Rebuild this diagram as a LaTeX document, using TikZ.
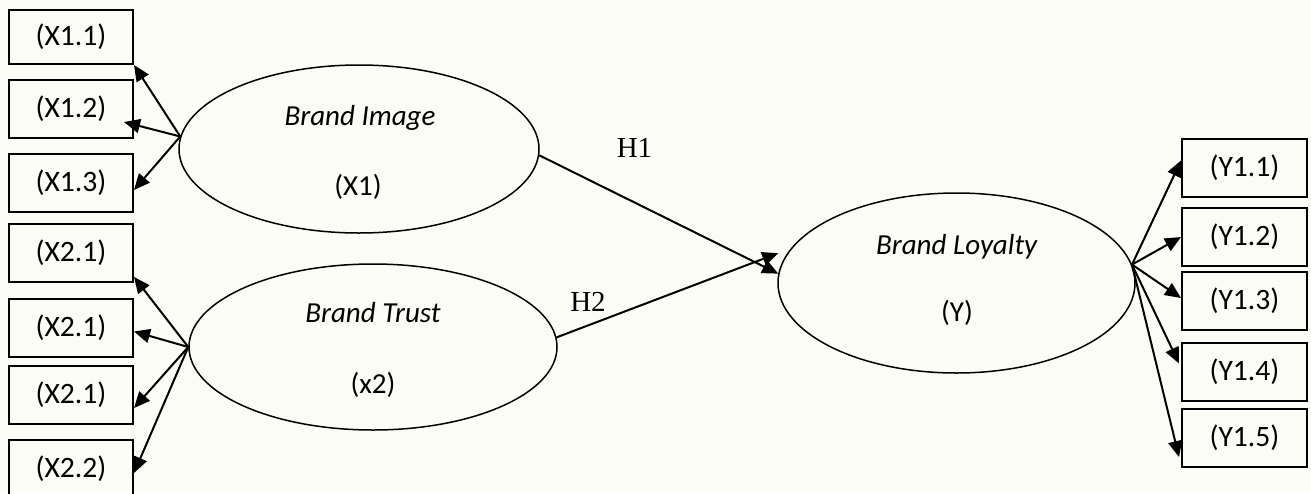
\documentclass[tikz,border=0pt]{standalone}
\usepackage{fontspec}
\setmainfont{Carlito}
\newfontfamily\hfont{Liberation Serif}
\usetikzlibrary{arrows.meta, shapes.geometric}
\definecolor{mCream}{HTML}{FCFCF6}
\tikzset{
  ind/.style={draw, line width=1pt, minimum width=62pt, minimum height=29pt,
              inner sep=0pt, font=\fontsize{14.8}{17}\selectfont},
  lat/.style={draw, ellipse, line width=0.75pt, inner sep=0pt},
  ltxt/.style={anchor=base, font=\fontsize{14.5}{17}\selectfont},
  hyp/.style={anchor=base, font=\hfont\fontsize{14.5}{17}\selectfont},
  load/.style={line width=1pt, -{Triangle[length=8pt,width=7pt]}},
}

\begin{document}
\begin{tikzpicture}[x=0.5pt, y=-0.5pt]
    \fill[mCream] (0,0) rectangle (1311,493);
    \useasboundingbox (0,0) rectangle (1311,493);
    \clip (0,0) rectangle (1311,493);
    \node[lat, minimum width=180pt, minimum height=84pt] (bi) at (359,149) {};
    \node[lat, minimum width=184pt, minimum height=83pt] (bt) at (373,347) {};
    \node[lat, minimum width=178.5pt, minimum height=90pt] (bl) at (956.5,283) {};
    \node[ltxt] (biname) at (360,125) {\textit{Brand Image}};
    \node[ltxt] (bicode) at (358,195) {(X1)};
    \node[ltxt] (btname) at (373,322.5) {\textit{Brand Trust}};
    \node[ltxt] (btcode) at (373,393) {(x2)};
    \node[ltxt] (blname) at (957,254) {\textit{Brand Loyalty}};
    \node[ltxt] (blcode) at (957,321.5) {(Y)};
    \node[ind, minimum height=27pt] (x11) at (71,37) {(X1.1)};
    \node[ind] (x12) at (71,109) {(X1.2)};
    \node[ind] (x13) at (71,183) {(X1.3)};
    \node[ind] (x21) at (71,253) {(X2.1)};
    \node[ind] (x22) at (71,327.5) {(X2.1)};
    \node[ind] (x23) at (71,395) {(X2.1)};
    \node[ind] (x24) at (71,469) {(X2.2)};
    \node[ind, minimum width=62.5pt] (y11) at (1244.5,167.5) {(Y1.1)};
    \node[ind, minimum width=62.5pt] (y12) at (1244.5,237) {(Y1.2)};
    \node[ind, minimum width=62.5pt] (y13) at (1244.5,301) {(Y1.3)};
    \node[ind, minimum width=62.5pt] (y14) at (1244.5,371.5) {(Y1.4)};
    \node[ind, minimum width=62.5pt] (y15) at (1244.5,438) {(Y1.5)};
    \node[hyp] (h1) at (634.5,157) {H1};
    \node[hyp] (h2) at (588,311) {H2};
    \draw[load] (bi.176) -- (x11.south east);
    \draw[load] (bi.176) -- ([shift={(-5pt,-6.5pt)}]x12.east);
    \draw[load] (bi.176) -- ([yshift=-3.5pt]x13.east);
    \draw[load] (bt.west) -- ([yshift=-12pt]x21.east);
    \draw[load] (bt.west) -- ([yshift=-2pt]x22.east);
    \draw[load] (bt.west) -- ([yshift=-6.5pt]x23.east);
    \draw[load] (bt.west) -- ([yshift=-2pt]x24.east);
    \draw[load] (bl.6) -- ([yshift=3.5pt]y11.west);
    \draw[load] (bl.6) -- (y12.west);
    \draw[load] (bl.6) -- ([yshift=1.5pt]y13.west);
    \draw[load] (bl.6) -- ([shift={(-1pt,4pt)}]y14.west);
    \draw[load] (bl.6) -- ([shift={(-1pt,-9.5pt)}]y15.west);
    \draw[load] (bi.-2) -- (bl.177);
    \draw[load] (bt.3) -- ([xshift=-4.5pt]bl.170);
\end{tikzpicture}
\end{document}
